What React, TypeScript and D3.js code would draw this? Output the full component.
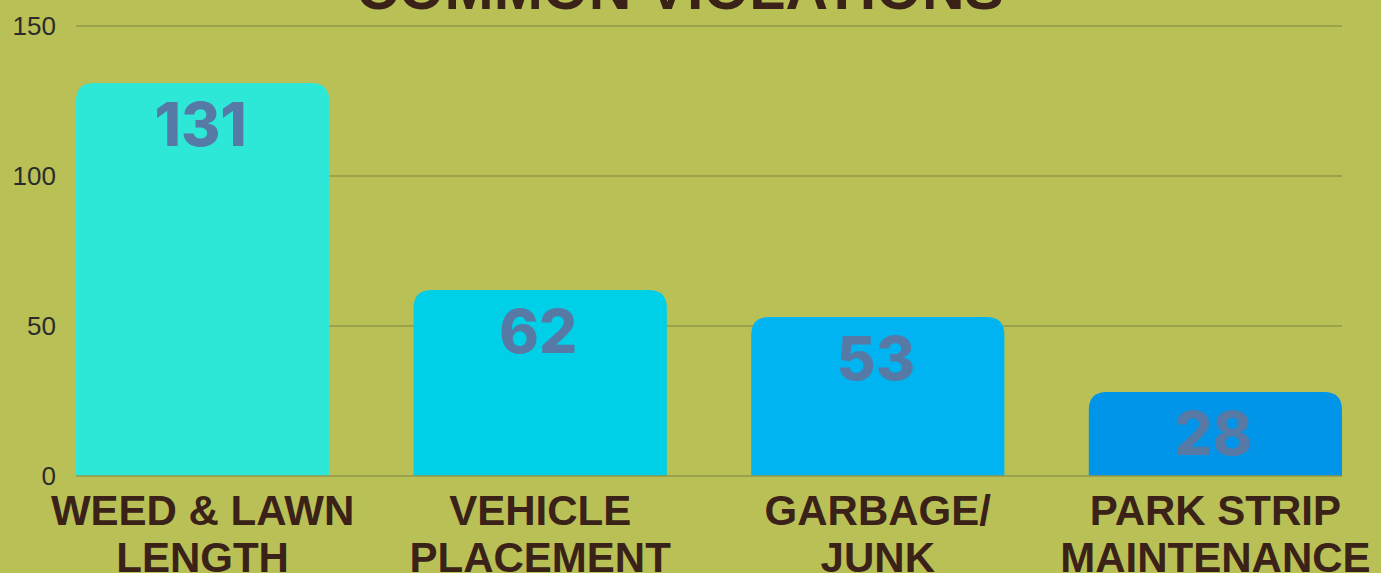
import * as d3 from 'd3';
import { useMemo } from 'react';

const categories = [
  ['WEED & LAWN', 'LENGTH'],
  ['VEHICLE', 'PLACEMENT'],
  ['GARBAGE/', 'JUNK'],
  ['PARK STRIP', 'MAINTENANCE'],
];
const values = [131, 62, 53, 28];
const barColors = ['#2de8d6', '#00cfe8', '#00b4f2', '#0095e8'];
const yTicks = [0, 50, 100, 150];
const title = 'COMMON VIOLATIONS';

const width = 1381;
const height = 573;
const MARGIN = { top: 26, right: 39, bottom: 97, left: 76 };

// rounded top corners only
function barPath(x: number, y: number, w: number, h: number, r: number) {
  const rr = Math.min(r, w / 2, h);
  return `M${x},${y + h}V${y + rr}Q${x},${y} ${x + rr},${y}H${x + w - rr}Q${x + w},${y} ${x + w},${y + rr}V${y + h}Z`;
}

export default function App() {
  const boundsWidth = width - MARGIN.left - MARGIN.right;
  const boundsHeight = height - MARGIN.top - MARGIN.bottom;

  const xScale = useMemo(() => {
    return d3.scaleBand<number>()
      .domain(d3.range(values.length))
      .range([0, boundsWidth])
      .paddingInner(0.25)
      .paddingOuter(0);
  }, [boundsWidth]);

  const yScale = useMemo(() => {
    return d3.scaleLinear().domain([0, 150]).range([boundsHeight, 0]);
  }, [boundsHeight]);

  return (
    <svg
      width={width}
      height={height}
      style={{ position: 'fixed', left: 0, top: 0, display: 'block' }}
    >
      <rect width={width} height={height} fill="#b9c056" />
      <text
        x={680}
        y={9}
        textAnchor="middle"
        fontFamily="'Liberation Sans', Arial, sans-serif"
        fontWeight="bold"
        fontSize={59}
        fill="#3a2218"
      >
        {title}
      </text>
      <g transform={`translate(${MARGIN.left},${MARGIN.top})`}>
        {/* grid */}
        {yTicks.filter((t) => t > 0).map((t) => (
          <line
            key={t}
            x1={0}
            x2={boundsWidth}
            y1={yScale(t)}
            y2={yScale(t)}
            stroke="#939849"
            strokeWidth={1.5}
          />
        ))}
        {yTicks.map((t) => (
          <text
            key={'l' + t}
            x={-20}
            y={yScale(t) + 9}
            textAnchor="end"
            fontFamily="'Liberation Sans', Arial, sans-serif"
            fontSize={26}
            fill="#2b2b2b"
          >
            {t}
          </text>
        ))}

        {/* bars */}
        {values.map((v, i) => {
          const x = xScale(i)!;
          const y = yScale(v);
          return (
            <path
              key={i}
              d={barPath(x, y, xScale.bandwidth(), boundsHeight - y, 18)}
              fill={barColors[i]}
            />
          );
        })}
        <line
          x1={0}
          x2={boundsWidth}
          y1={yScale(0)}
          y2={yScale(0)}
          stroke="#939849"
          strokeWidth={1.5}
        />

        {/* value labels */}
        {values.map((v, i) => (
          <text
            key={'v' + i}
            x={xScale(i)! + xScale.bandwidth() / 2 - 2}
            y={yScale(v) + 63}
            textAnchor="middle"
            fontFamily="Inter, 'Noto Sans', sans-serif"
            fontWeight={800}
            fontSize={60}
            fill="#5679a5"
          >
            {v}
          </text>
        ))}

        {/* category labels */}
        {categories.map((lines, i) => {
          const cx = xScale(i)! + xScale.bandwidth() / 2;
          return (
            <text
              key={'c' + i}
              x={cx}
              y={boundsHeight + 49}
              textAnchor="middle"
              fontFamily="'Liberation Sans', Arial, sans-serif"
              fontWeight="bold"
              fontSize={42}
              fill="#3a2218"
            >
              {lines.map((l, j) => (
                <tspan key={j} x={cx} dy={j === 0 ? 0 : 47}>
                  {l}
                </tspan>
              ))}
            </text>
          );
        })}
      </g>
    </svg>
  );
}
